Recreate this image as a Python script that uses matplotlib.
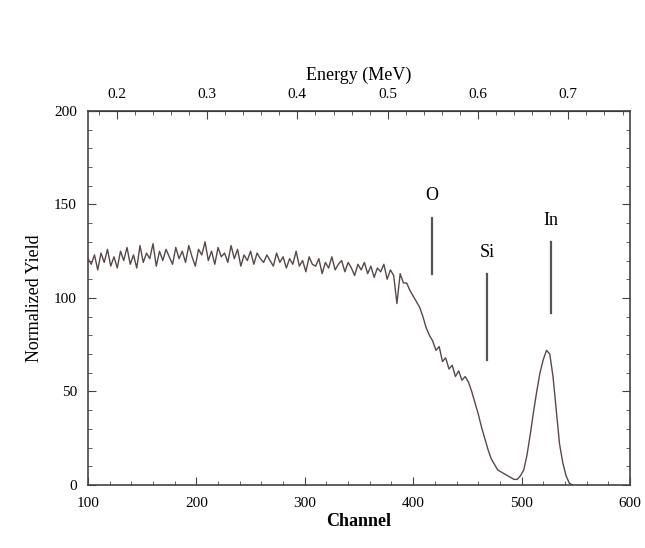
from matplotlib import pyplot as plt
from matplotlib.ticker import MultipleLocator, FixedLocator
import numpy as np

plt.rcParams['font.family'] = ['Liberation Serif', 'DejaVu Serif']

# spectrum, one reading every 3 channels (100 .. 547)
channel = np.arange(100, 548, 3)
yield_plateau = [121, 118, 123, 115, 124, 119, 126, 117, 122, 116, 125, 120, 127, 118,
                 123, 116, 128, 119, 124, 121, 129, 117, 125, 120, 126, 122, 118, 127,
                 121, 125, 119, 128, 122, 117, 126, 123, 130, 120, 125, 118, 127, 122,
                 124, 119, 128, 121, 126, 117, 123, 120, 125, 118, 124, 121, 119, 123,
                 120, 117, 124, 119, 122, 116, 121, 118, 125, 117, 120, 114, 122, 118,
                 117, 121, 113, 119, 116, 122, 115, 118, 120, 114, 119, 116, 112, 118,
                 115, 119, 113, 117, 111, 116, 114, 118, 110, 115, 112, 97, 113, 108,
                 108, 104, 101, 98, 95, 90]
yield_tail = [84, 80, 77, 72, 74, 66, 68, 62, 64, 58,
              61, 56, 58, 55, 50, 44, 38, 31, 25, 19,
              14, 11, 8, 7, 6, 5, 4, 3, 3, 5,
              8, 16, 27, 39, 50, 60, 67, 72, 70, 58,
              40, 22, 12, 5, 1, 0]
counts = np.array(yield_plateau + yield_tail)

# element markers: name, channel, line bottom, line top, label height
elements = ['O', 'Si', 'In']
elem_channel = [417, 468, 527]
elem_low = [113, 67, 92]
elem_high = [143, 113, 130]
elem_label_y = [150, 120, 137]

energy_ticks = [0.2, 0.3, 0.4, 0.5, 0.6, 0.7]

# channel -> energy (MeV)
def ch2e(c):
    return 0.0012 * c + 0.0482

def e2ch(e):
    return (e - 0.0482) / 0.0012


fig = plt.figure(figsize=(6.45, 5.48), dpi=100)
ax = fig.add_axes([0.1364, 0.115, 0.8403, 0.6826])

ax.plot(channel, counts, color='#5a4848', lw=1.0)

for name, c, lo, hi, ly in zip(elements, elem_channel, elem_low, elem_high, elem_label_y):
    ax.plot([c, c], [lo, hi], color='#555555', lw=1.6)
    ax.text(c, ly, name, ha='center', va='bottom', fontsize=13)

ax.set_xlim(100, 600)
ax.set_ylim(0, 200)
ax.xaxis.set_major_locator(MultipleLocator(100))
ax.xaxis.set_minor_locator(MultipleLocator(20))
ax.yaxis.set_major_locator(MultipleLocator(50))
ax.yaxis.set_minor_locator(MultipleLocator(10))
ax.tick_params(which='both', direction='in', right=True, labelsize=11, color='#444444')
ax.tick_params(which='major', length=6)
ax.tick_params(which='minor', length=3)
ax.tick_params(axis='x', pad=9)
ax.tick_params(axis='y', pad=8)
ax.set_xlabel('Channel', fontsize=13, fontweight='bold', labelpad=2)
ax.set_ylabel('Normalized Yield', fontsize=13, labelpad=8)
for s in ax.spines.values():
    s.set_color('#444444')
    s.set_linewidth(1.2)

top = ax.secondary_xaxis('top', functions=(ch2e, e2ch))
top.xaxis.set_major_locator(FixedLocator(energy_ticks))
top.xaxis.set_minor_locator(FixedLocator(np.arange(0.06, 0.78, 0.02)))
top.tick_params(which='both', direction='in', labelsize=11, color='#444444', pad=7)
top.tick_params(which='major', length=6)
top.tick_params(which='minor', length=3)
top.set_xlabel('Energy (MeV)', fontsize=13, labelpad=6)

plt.savefig('out.png', dpi=100)
